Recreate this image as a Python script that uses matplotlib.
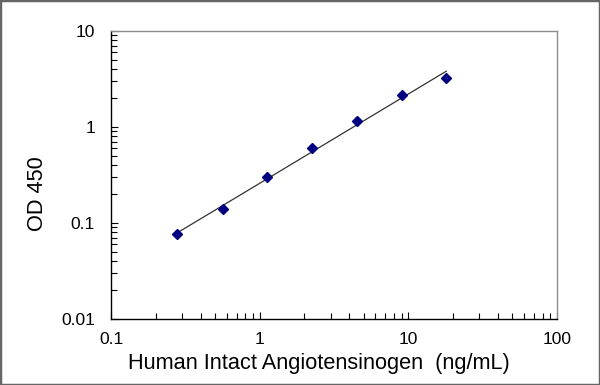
import numpy as np
import matplotlib.pyplot as plt
from matplotlib.ticker import LogLocator, FixedLocator, NullFormatter
from matplotlib.patches import Rectangle

# standard curve data
conc = [0.28, 0.5625, 1.125, 2.25, 4.5, 9, 18]
od450 = [0.076, 0.139, 0.30, 0.605, 1.15, 2.15, 3.23]
xticks = [0.1, 1, 10, 100]
xtick_labels = ['0.1', '1', '10', '100']
yticks = [0.01, 0.1, 1, 10]
ytick_labels = ['0.01', '0.1', '1', '10']

plt.rcParams['font.family'] = ['Liberation Sans', 'DejaVu Sans']

fig = plt.figure(figsize = (6, 3.85), dpi = 100)
ax = fig.add_axes([111/600, 1 - 319/385, 446/600, 288/385])

# power fit in log space
p = np.polyfit(np.log10(conc), np.log10(od450), 1)
xf = np.array([conc[0], conc[-1]])
ax.plot(xf, 10**np.polyval(p, np.log10(xf)), color = '#333333', linewidth = 0.9)
ax.plot(conc, od450, linestyle = 'none', marker = 'D', markersize = 5.5,
		color = '#000080', markeredgecolor = '#000080')

ax.set_xscale('log')
ax.set_yscale('log')
ax.set_xlim(0.1, 100)
ax.set_ylim(0.01, 10)

ax.xaxis.set_major_locator(FixedLocator(xticks))
ax.set_xticklabels(xtick_labels)
ax.yaxis.set_major_locator(FixedLocator(yticks))
ax.set_yticklabels(ytick_labels)
ax.xaxis.set_minor_locator(LogLocator(base = 10, subs = np.arange(2, 10)))
ax.yaxis.set_minor_locator(LogLocator(base = 10, subs = np.arange(2, 10)))
ax.xaxis.set_minor_formatter(NullFormatter())
ax.yaxis.set_minor_formatter(NullFormatter())

ax.tick_params(which = 'both', direction = 'in', top = False, right = False,
			   color = 'black', width = 0.8)
ax.tick_params(which = 'major', length = 5, labelsize = 12.5)
ax.tick_params(which = 'minor', length = 4)
ax.tick_params(axis = 'x', which = 'major', pad = 9)
ax.tick_params(axis = 'y', which = 'major', pad = 11.5)

ax.spines['left'].set_color('black')
ax.spines['bottom'].set_color('black')
ax.spines['top'].set_color('#8c8c8c')
ax.spines['right'].set_color('#8c8c8c')
for s in ax.spines.values():
	s.set_linewidth(1.0)

ax.set_xlabel('Human Intact Angiotensinogen  (ng/mL)', fontsize = 15.7)
ax.set_ylabel('OD 450', fontsize = 15.7)
ax.xaxis.set_label_coords(0.466, -0.118)
ax.yaxis.set_label_coords(-0.142, 0.436)

fig.patches.append(Rectangle((0, 0), 1, 1, transform = fig.transFigure,
							 fill = False, edgecolor = '#666666', linewidth = 2.5))

fig.savefig('out.png', dpi = 100)
